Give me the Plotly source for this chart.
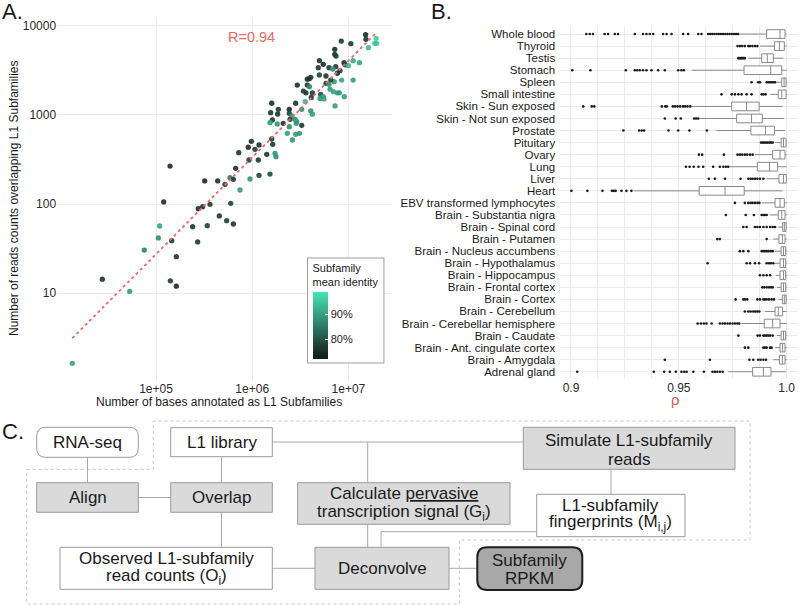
import math
import plotly.graph_objects as go

W, H = 800, 605
FONT = "Liberation Sans, Arial, Helvetica, sans-serif"
INK = "#1a1a1a"

# ---------------- Panel A data ----------------
bases = [13500, 27700, 53300, 75500, 105700, 109000, 120200, 145600, 162600, 140900,
         162600, 240500, 271000, 275400, 305500, 140000, 341000, 364000, 455000, 543000,
         637000, 598000, 321000, 438000, 521000, 588000, 637000, 746000, 673000, 724000,
         910000, 979000, 1069000, 1178000, 927000, 1157000, 948000, 1178000, 1416000, 1531000,
         1726000, 1768000, 1633000, 1596000, 2317000, 2612000, 2831000, 3090000,
         15100000, 15200000, 19400000, 19700000, 18800000, 16100000, 8430000, 10600000, 7210000, 7210000,
         7430000, 4990000, 5480000, 9000000, 9220000, 11200000, 13000000, 9980000, 6280000, 7380000,
         6870000, 8180000, 7670000, 4860000, 4990000, 4060000, 3930000, 3740000, 5850000, 7130000,
         8510000, 11200000, 6550000, 5850000, 6280000, 2940000, 3740000, 3930000, 6440000, 6970000,
         7670000, 8040000, 3400000, 3620000, 4220000, 5150000, 4110000, 5480000, 5070000, 5570000,
         9060000, 3560000, 2830000, 7260000, 4060000, 4220000, 1596000, 1556000, 1868000, 1840000,
         2430000, 2430000, 2580000, 3270000, 1620000, 1531000, 1820000, 2100000, 2470000, 2790000,
         2900000, 2870000, 3270000, 2430000]
reads = [1.64, 14.4, 10.5, 30.5, 41.7, 56.8, 105.7, 38.9, 25.7, 13.8,
         12.0, 55.8, 37.6, 88.8, 93.5, 267, 57.3, 99.5, 73.6, 65.2,
         59.8, 102, 181.6, 181.6, 166.7, 197.7, 189.7, 143.9, 251.8, 376.7,
         433.5, 505.8, 411, 460, 312, 312, 191, 210, 361, 217,
         371, 340, 468, 537, 622, 523, 606, 622,
         7930, 7040, 7220, 6350, 6350, 5670, 6730, 6290, 5440, 4780,
         4570, 4050, 3690, 3850, 3650, 4050, 3850, 3560, 3380, 3470,
         3270, 3130, 2930, 3380, 2800, 2640, 2550, 2510, 2730, 2360,
         2460, 2460, 2460, 2260, 2200, 2160, 2160, 2070, 1940, 1820,
         1770, 1770, 1850, 1770, 1770, 1700, 1570, 1600, 1530, 1510,
         1600, 1410, 1350, 1260, 1110, 1020, 1350, 1060, 1156, 1023,
         1156, 1042, 972, 1156, 877, 818, 791, 805, 893, 893,
         839, 805, 764, 738]
identity = [91, 77, 90, 87, 88, 91, 76, 78, 77, 78,
            76, 77, 78, 76, 77, 76, 79, 78, 77, 78,
            77, 79, 76, 77, 78, 86, 77, 90, 76, 77,
            76, 77, 78, 76, 78, 77, 89, 79, 77, 80,
            89, 88, 77, 78, 90, 89, 90, 89,
            76, 77, 96, 96, 95, 94, 77, 78, 76, 77,
            78, 77, 76, 77, 78, 92, 91, 93, 78, 77,
            88, 78, 76, 77, 79, 77, 78, 76, 77, 90,
            91, 90, 78, 79, 89, 76, 77, 87, 90, 91,
            90, 89, 78, 77, 78, 80, 78, 90, 89, 91,
            90, 93, 77, 90, 89, 90, 76, 77, 78, 77,
            76, 78, 89, 88, 77, 90, 89, 77, 78, 88,
            90, 89, 77, 88]
fit_slope = 1.084
fit_intercept = -3.981
r_text = "R=0.94"
a_xticks = [1e5, 1e6, 1e7]
a_xticklabels = ["1e+05", "1e+06", "1e+07"]
a_yticks = [10, 100, 1000, 10000]
a_yticklabels = ["10", "100", "1000", "10000"]
identity_ticks = [80, 90]
identity_ticklabels = ["80%", "90%"]

# ---------------- Panel B data ----------------
tissues = ["Whole blood", "Thyroid", "Testis", "Stomach", "Spleen", "Small intestine",
           "Skin - Sun exposed", "Skin - Not sun exposed", "Prostate", "Pituitary", "Ovary",
           "Lung", "Liver", "Heart", "EBV transformed lymphocytes", "Brain - Substantia nigra",
           "Brain - Spinal cord", "Brain - Putamen", "Brain - Nucleus accumbens",
           "Brain - Hypothalamus", "Brain - Hippocampus", "Brain - Frontal cortex",
           "Brain - Cortex", "Brain - Cerebellum", "Brain - Cerebellar hemisphere",
           "Brain - Caudate", "Brain - Ant. cingulate cortex", "Brain - Amygdala", "Adrenal gland"]
rho_q1 = [0.9907, 0.9943, 0.9884, 0.9802, 0.9977, 0.9961, 0.9745, 0.9768, 0.9834, 0.9974, 0.9935,
          0.9864, 0.9964, 0.9594, 0.9946, 0.9961, 0.9981, 0.9964, 0.9974, 0.9969, 0.9969, 0.9974,
          0.9980, 0.9946, 0.9896, 0.9974, 0.9969, 0.9966, 0.9842]
rho_median = [0.9969, 0.9966, 0.9910, 0.9926, 0.9988, 0.9977, 0.9814, 0.9837, 0.9902, 0.9985, 0.9969,
              0.9920, 0.9985, 0.9714, 0.9969, 0.9977, 0.9989, 0.9980, 0.9985, 0.9985, 0.9985, 0.9985,
              0.9989, 0.9961, 0.9935, 0.9985, 0.9981, 0.9980, 0.9892]
rho_q3 = [0.9992, 0.9989, 0.9938, 0.9977, 0.9997, 0.9997, 0.9872, 0.9887, 0.9943, 0.9997, 0.9992,
          0.9958, 0.9998, 0.9803, 0.9989, 0.9992, 0.9997, 0.9992, 0.9995, 0.9995, 0.9995, 0.9995,
          0.9997, 0.9981, 0.9969, 0.9995, 0.9992, 0.9992, 0.9927]
rho_low = [0.9783, 0.9876, 0.9822, 0.9559, 0.9954, 0.9923, 0.9559, 0.9598, 0.9675, 0.9946, 0.9853,
           0.9737, 0.9907, 0.9290, 0.9884, 0.9923, 0.9961, 0.9938, 0.9946, 0.9946, 0.9950, 0.9954,
           0.9961, 0.9899, 0.9791, 0.9954, 0.9946, 0.9938, 0.9729]
rho_high = [0.9999, 0.9999, 0.9985, 1.0, 1.0, 1.0, 0.9981, 0.9988, 0.9992, 1.0, 1.0,
            1.0, 1.0, 0.9981, 1.0, 1.0, 1.0, 1.0, 1.0, 1.0, 1.0, 1.0,
            1.0, 0.9999, 1.0, 1.0, 1.0, 1.0, 0.9997]
rho_outliers = [
    [0.9071, 0.9087, 0.9102, 0.9156, 0.9172, 0.9203, 0.9218, 0.9296, 0.9334, 0.9350, 0.9365, 0.9381,
     0.9427, 0.9443, 0.9466, 0.9520, 0.9543, 0.9590, 0.9605, 0.9636, 0.9645, 0.9655, 0.9665, 0.9675,
     0.9685, 0.9695, 0.9705, 0.9715, 0.9725, 0.9735, 0.9745, 0.9755, 0.9765, 0.9775],
    [0.9772, 0.9783, 0.9794, 0.9806, 0.9822, 0.9830, 0.9841, 0.9853, 0.9864],
    [0.9776, 0.9781, 0.9786, 0.9791, 0.9796, 0.9801, 0.9806],
    [0.9006, 0.9090, 0.9254, 0.9296, 0.9307, 0.9319, 0.9334, 0.9350, 0.9373, 0.9404, 0.9435, 0.9497,
     0.9512, 0.9523],
    [0.9837, 0.9868, 0.9876, 0.9907, 0.9915, 0.9923, 0.9930, 0.9938, 0.9946],
    [0.9698, 0.9745, 0.9760, 0.9776, 0.9791, 0.9814, 0.9837, 0.9884, 0.9892, 0.9902],
    [0.9057, 0.9096, 0.9108, 0.9421, 0.9437, 0.9444, 0.9472, 0.9483, 0.9494, 0.9506, 0.9519, 0.9529,
     0.9540, 0.9553],
    [0.9435, 0.9485, 0.9509, 0.9571, 0.9580, 0.9590],
    [0.9243, 0.9316, 0.9328, 0.9339, 0.9452, 0.9497, 0.9549, 0.9630],
    [0.9881, 0.9889, 0.9896, 0.9904, 0.9912, 0.9920, 0.9927, 0.9935],
    [0.9593, 0.9608, 0.9709, 0.9772, 0.9783, 0.9794, 0.9806, 0.9817, 0.9830, 0.9842],
    [0.9533, 0.9550, 0.9569, 0.9591, 0.9613, 0.9659, 0.9690, 0.9706, 0.9718, 0.9729],
    [0.9639, 0.9667, 0.9714, 0.9786, 0.9822, 0.9833, 0.9842, 0.9853, 0.9864, 0.9876, 0.9892],
    [0.9002, 0.9076, 0.9146, 0.9190, 0.9198, 0.9207, 0.9234, 0.9257, 0.9280],
    [0.9760, 0.9806, 0.9822, 0.9833, 0.9842, 0.9853, 0.9864, 0.9873],
    [0.9718, 0.9810, 0.9848, 0.9884, 0.9892, 0.9899, 0.9907],
    [0.9799, 0.9814, 0.9853, 0.9864, 0.9876, 0.9892, 0.9907, 0.9923, 0.9935, 0.9946],
    [0.9678, 0.9690, 0.9907],
    [0.9783, 0.9799, 0.9822, 0.9884, 0.9892, 0.9899, 0.9907, 0.9915, 0.9926, 0.9935],
    [0.9633, 0.9814, 0.9830, 0.9853, 0.9872, 0.9907, 0.9918, 0.9927, 0.9938],
    [0.9876, 0.9892, 0.9907, 0.9923],
    [0.9887, 0.9896, 0.9907, 0.9918, 0.9927, 0.9935],
    [0.9763, 0.9799, 0.9806, 0.9817, 0.9864, 0.9876, 0.9892, 0.9899, 0.9907, 0.9918, 0.9930, 0.9941],
    [0.9806, 0.9822, 0.9833, 0.9845, 0.9854, 0.9864, 0.9873],
    [0.9587, 0.9602, 0.9616, 0.9628, 0.9652, 0.9690, 0.9703, 0.9714, 0.9726, 0.9737, 0.9749, 0.9760,
     0.9771, 0.9780],
    [0.9776, 0.9865, 0.9876, 0.9892, 0.9899, 0.9907, 0.9915, 0.9923, 0.9935],
    [0.9806, 0.9822, 0.9892, 0.9899, 0.9907, 0.9923, 0.9930],
    [0.9435, 0.9644, 0.9827, 0.9845, 0.9868, 0.9879, 0.9892, 0.9904],
    [0.9029, 0.9384, 0.9432, 0.9458, 0.9486, 0.9512, 0.9525, 0.9536, 0.9567, 0.9616, 0.9656, 0.9667,
     0.9678, 0.9690, 0.9703],
]
b_xticks = [0.9, 0.95, 1.0]
b_xticklabels = ["0.9", "0.95", "1.0"]


def PX(x):
    return x / W


def PY(y):
    return 1 - y / H


fig = go.Figure()

# ---- Panel A ----
fig.add_trace(go.Scatter(
    x=bases, y=reads, mode="markers", xaxis="x", yaxis="y", hoverinfo="skip",
    marker=dict(size=5.3, color=identity, cmin=72.4, cmax=99.0, opacity=0.92,
                colorscale=[[0, "#161616"], [1, "#46E4B6"]], line=dict(width=0),
                showscale=True,
                colorbar=dict(x=PX(307.5), xanchor="left", y=PY(257.5), yanchor="top",
                              lenmode="pixels", len=104, thicknessmode="pixels", thickness=15,
                              outlinewidth=0, borderwidth=1, bordercolor="#A0A0A0",
                              bgcolor="white", xpad=5, ypad=3,
                              title=dict(text="Subfamily<br>mean identity", side="top",
                                         font=dict(family=FONT, size=11, color=INK)),
                              tickmode="array", tickvals=identity_ticks, ticktext=identity_ticklabels,
                              ticks="inside", ticklen=3, tickcolor="white",
                              tickfont=dict(family=FONT, size=11, color=INK)))))
fit_x = [min(bases), max(bases)]
fit_y = [10 ** (fit_intercept + fit_slope * math.log10(v)) for v in fit_x]
fig.add_trace(go.Scatter(x=fit_x, y=fit_y, mode="lines", xaxis="x", yaxis="y", hoverinfo="skip",
                         line=dict(color="#F2675F", width=1.8, dash="3px,3px")))

# ---- Panel B ----
fig.add_trace(go.Box(
    y=tissues, q1=rho_q1, median=rho_median, q3=rho_q3, lowerfence=rho_low, upperfence=rho_high,
    orientation="h", xaxis="x2", yaxis="y2", fillcolor="white", boxpoints=False,
    line=dict(color="#8A8A8A", width=1), whiskerwidth=0, width=0.72, hoverinfo="skip"))
out_x, out_y = [], []
for t, vals in zip(tissues, rho_outliers):
    out_x.extend(vals)
    out_y.extend([t] * len(vals))
fig.add_trace(go.Scatter(x=out_x, y=out_y, mode="markers", xaxis="x2", yaxis="y2", hoverinfo="skip",
                         marker=dict(size=2.6, color="#1a1a1a")))

# ---- Panel C (flow chart) ----
shapes = []
BOX_LINE = "#9A9A9A"
GRAY = "#DADADA"
CONN = "#AAAAAA"


def seg(x0, y0, x1, y1):
    shapes.append(dict(type="line", xref="paper", yref="paper", x0=PX(x0), y0=PY(y0), x1=PX(x1), y1=PY(y1),
                       line=dict(color=CONN, width=1)))


def rect(x0, y0, x1, y1, fill, lc=BOX_LINE, lw=1):
    shapes.append(dict(type="rect", xref="paper", yref="paper", x0=PX(x0), y0=PY(y1), x1=PX(x1), y1=PY(y0),
                       fillcolor=fill, line=dict(color=lc, width=lw)))


def rrect(x0, y0, x1, y1, r, fill, lc=BOX_LINE, lw=1):
    def p(x, y):
        return "%.5f,%.5f" % (PX(x), PY(y))
    path = ("M " + p(x0 + r, y0) + " L " + p(x1 - r, y0) + " Q " + p(x1, y0) + " " + p(x1, y0 + r) +
            " L " + p(x1, y1 - r) + " Q " + p(x1, y1) + " " + p(x1 - r, y1) +
            " L " + p(x0 + r, y1) + " Q " + p(x0, y1) + " " + p(x0, y1 - r) +
            " L " + p(x0, y0 + r) + " Q " + p(x0, y0) + " " + p(x0 + r, y0) + " Z")
    shapes.append(dict(type="path", xref="paper", yref="paper", path=path, fillcolor=fill,
                       line=dict(color=lc, width=lw)))


# dotted boundary
bpts = [(26.7, 469.3), (153.3, 469.3), (153.3, 421), (750, 421), (750, 540), (459.3, 540),
        (459.3, 604), (26.7, 604)]
bpath = "M " + " L ".join("%.5f,%.5f" % (PX(x), PY(y)) for x, y in bpts) + " Z"
shapes.append(dict(type="path", xref="paper", yref="paper", path=bpath,
                   line=dict(color="#C4C4C4", width=1, dash="dot")))

# connectors
seg(87.5, 457.3, 87.5, 482.7)
seg(138.3, 497.5, 170.7, 497.5)
seg(221.5, 456.7, 221.5, 482.7)
seg(221.5, 512.3, 221.5, 547.3)
seg(272.3, 442, 523.3, 442)
seg(367.7, 442, 367.7, 482.7)
seg(367.7, 524.3, 367.7, 547.3)
seg(611, 469.3, 611, 494.3)
seg(536.7, 531.7, 381, 531.7)
seg(381, 531.7, 381, 547.3)
seg(272.3, 568.3, 315, 568.3)
seg(449, 568.3, 477.3, 568.3)

# boxes
rrect(36.7, 427.3, 138.3, 457.3, 9, "white")
rect(170.7, 427.7, 272.3, 456.7, "white")
rect(36.7, 482.7, 138.3, 512.3, GRAY)
rect(170.7, 482.7, 272.3, 512.3, GRAY)
rect(297.7, 482.7, 510, 524.3, GRAY)
rect(60, 547.3, 272.3, 589.3, "white")
rect(315, 547.3, 449, 589.3, GRAY)
rect(523.3, 427.3, 735, 469.3, GRAY)
rect(536.7, 494.3, 685, 536.7, "white")
rrect(477.3, 547.3, 582.3, 590, 10, "#A8A8A8", lc="#1f1f1f", lw=2)

annotations = []


def ann(x, y, text, size, color=INK, xanchor="center", yanchor="middle", angle=0):
    annotations.append(dict(x=PX(x), y=PY(y), xref="paper", yref="paper", text=text, showarrow=False,
                            font=dict(family=FONT, size=size, color=color), xanchor=xanchor,
                            yanchor=yanchor, textangle=angle))


# flow chart texts
BS = 17
ann(87.5, 442.3, "RNA-seq", BS)
ann(221.5, 442.2, "L1 library", BS)
ann(87.5, 497.5, "Align", BS)
ann(221.5, 497.5, "Overlap", BS)
ann(403.8, 493.5, "Calculate <u>pervasive</u>", BS)
ann(403.8, 512.7, "transcription signal (G<sub>i</sub>)", BS)
ann(166.2, 558.3, "Observed L1-subfamily", BS)
ann(166.2, 576.7, "read counts (O<sub>i</sub>)", BS)
ann(382, 568.3, "Deconvolve", BS)
ann(629.2, 440, "Simulate L1-subfamily", BS)
ann(629.2, 459.3, "reads", BS)
ann(610.8, 505, "L1-subfamily", BS)
ann(610.8, 523.3, "fingerprints (M<sub>i,j</sub>)", BS)
ann(529.8, 560, "Subfamily", BS)
ann(529.8, 578.3, "RPKM", BS)

# panel labels and titles
ann(0, 11, "A.", 22, xanchor="left")
ann(429, 11, "B.", 22, xanchor="left")
ann(0, 431.5, "C.", 22, xanchor="left")
ann(14, 199, "Number of reads counts overlapping L1 Subfamilies", 12, angle=-90)
ann(218.7, 401.7, "Number of bases annotated as L1 Subfamilies", 12)
ann(675.5, 399.5, "ρ", 15, color="#E8544E")
ann(251.7, 36.7, r_text, 14.5, color="#F2675F")

GRID = "#EBEBEB"
fig.update_layout(
    width=W, height=H, margin=dict(l=0, r=0, t=0, b=0),
    paper_bgcolor="white", plot_bgcolor="white", showlegend=False, hovermode=False,
    font=dict(family=FONT, color=INK),
    xaxis=dict(domain=[PX(57.1), PX(391.9)], type="log", range=[3.972, 7.452], anchor="y",
               tickmode="array", tickvals=a_xticks, ticktext=a_xticklabels,
               showgrid=True, gridcolor=GRID, gridwidth=1, zeroline=False, showline=False, ticks="",
               tickfont=dict(family=FONT, size=12, color="#2a2a2a")),
    yaxis=dict(domain=[PY(379.7), PY(18.3)], type="log", range=[0.031, 4.083], anchor="x",
               tickmode="array", tickvals=a_yticks, ticktext=a_yticklabels,
               showgrid=True, gridcolor=GRID, gridwidth=1, zeroline=False, showline=False, ticks="",
               tickfont=dict(family=FONT, size=12, color="#2a2a2a")),
    xaxis2=dict(domain=[PX(560.2), PX(797.5)], range=[0.895, 1.005], anchor="y2",
                tickmode="array", tickvals=b_xticks, ticktext=b_xticklabels,
                showgrid=True, gridcolor=GRID, gridwidth=1, zeroline=False, showline=False, ticks="",
                minor=dict(tickmode="linear", tick0=0.9, dtick=0.0125, showgrid=True, gridcolor=GRID,
                           gridwidth=1, ticks=""),
                tickfont=dict(family=FONT, size=12, color="#2a2a2a")),
    yaxis2=dict(domain=[PY(379.0), PY(26.8)], type="category", categoryorder="array",
                categoryarray=tissues, range=[28.6, -0.6], anchor="x2",
                tickmode="array", tickvals=tissues, ticktext=tissues, ticklabelstandoff=4,
                showgrid=True, gridcolor=GRID, gridwidth=1, zeroline=False, showline=False, ticks="",
                tickfont=dict(family=FONT, size=11.5, color=INK)),
    shapes=shapes, annotations=annotations,
)

fig.write_html("out.html", config={"displayModeBar": False},
               post_script="document.body.style.margin='0';document.body.style.padding='0';")
